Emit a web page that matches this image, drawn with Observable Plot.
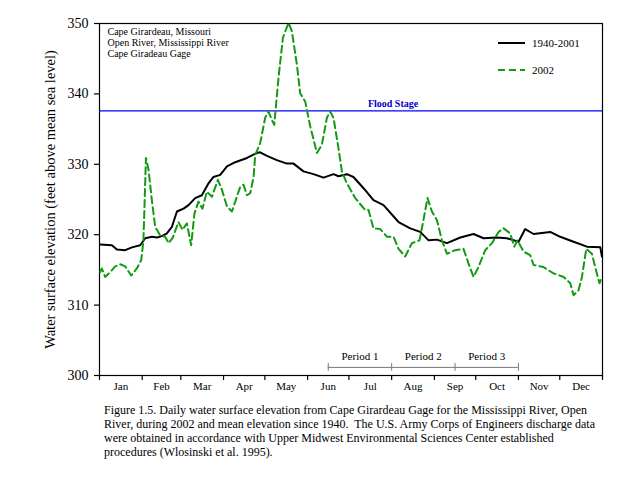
<!DOCTYPE html>
<html>
<head>
<meta charset="utf-8">
<script src="https://cdn.jsdelivr.net/npm/d3@7"></script>
<script src="https://cdn.jsdelivr.net/npm/@observablehq/plot@0.6"></script>
<style>
  html, body { margin: 0; padding: 0; background: #fff; }
  #wrap { position: relative; width: 640px; height: 495px; font-family: 'Liberation Serif', 'DejaVu Serif', serif; }
  #legend { position: absolute; left: 498px; top: 35px; font-size: 11px; color: #000; font-family: 'Liberation Serif', 'DejaVu Serif', serif; }
  #legend .row { display: flex; align-items: center; height: 16px; margin-bottom: 11px; }
  #legend svg { margin-right: 7px; }
  #caption { margin: 5px 0 0 104px; font-size: 12px; line-height: 14px; white-space: nowrap; color: #000; font-family: 'Liberation Serif', 'DejaVu Serif', serif; }
</style>
</head>
<body>
<div id="wrap">
  <div id="chart"></div>
  <div id="legend"></div>
  <div id="caption"></div>
</div>
<script>
// ---- data (day of year, 0 = Jan 1) ----
const avgDay  = [0.5, 9, 12.6, 18.7, 23.5, 29.5, 33.2, 38, 41.7, 45.3, 48.9, 52.5, 56.2, 61, 64.6, 69.4, 74.3, 79.1, 82.7, 87.6, 92.5, 98.5, 107, 114.2, 116.6, 121.5, 128.7, 136, 140.8, 148, 155.3, 162.6, 169.8, 173.4, 179.5, 184.3, 191.6, 198.8, 206.1, 217, 225.5, 232.7, 238.8, 244.8, 252.1, 261.8, 271.4, 278.7, 288.4, 295.6, 304.1, 308.9, 315, 327.1, 334.3, 344, 353.7, 363.4, 364.6];
const avgElev = [318.6, 318.5, 317.9, 317.8, 318.2, 318.5, 319.5, 319.7, 319.6, 319.8, 320.2, 321.1, 323.3, 323.7, 324.2, 325.2, 325.6, 327.3, 328.2, 328.5, 329.7, 330.3, 330.9, 331.6, 331.7, 331.2, 330.6, 330.1, 330.1, 329.0, 328.6, 328.1, 328.6, 328.3, 328.6, 328.2, 326.6, 324.9, 324.2, 321.8, 320.9, 320.4, 319.2, 319.3, 318.8, 319.6, 320.1, 319.5, 319.6, 319.5, 319.0, 320.8, 320.1, 320.4, 319.7, 319.0, 318.3, 318.2, 316.9];

const y2002Day  = [0.5, 1.7, 4.1, 7.8, 11.4, 15, 18.7, 23, 27.1, 30.3, 31.9, 33.7, 35.6, 38, 40.4, 44, 47.7, 50.1, 53, 57.3, 60.2, 63.4, 66.5, 68.9, 71.8, 74.7, 77.9, 81.6, 85.9, 88.8, 92.5, 96.1, 102.1, 104.5, 107, 109.4, 111.8, 113, 116.6, 120.2, 122.6, 125.1, 126.8, 129.9, 133.1, 137.2, 139.6, 143.2, 145.6, 149.3, 152.9, 157.8, 161.4, 165, 167.4, 169.8, 173.4, 175.9, 179.5, 185.6, 192.8, 195.2, 198.8, 203.7, 208.6, 213.4, 217, 221.8, 226.7, 232.2, 235.1, 238, 241.2, 244.8, 248.5, 252.1, 258.1, 264.1, 267.8, 271.4, 275, 279.9, 284.8, 289.6, 293.2, 298, 301, 303.3, 307.7, 312.5, 315, 322.2, 329.5, 336.8, 341.6, 344, 347.6, 350.1, 353.2, 357.3, 359.7, 362.8, 364.6];
const y2002Elev = [314.7, 315.2, 314.0, 314.7, 315.5, 315.8, 315.5, 314.2, 315.2, 316.4, 319.2, 330.9, 329.2, 324.9, 321.1, 319.9, 319.7, 318.8, 319.5, 321.8, 320.7, 321.6, 318.5, 323.0, 324.7, 323.7, 326.1, 325.4, 327.8, 326.4, 324.0, 323.3, 326.8, 327.1, 325.6, 325.9, 328.2, 331.3, 333.0, 336.6, 337.5, 336.3, 335.6, 342.3, 348.0, 350.1, 348.9, 344.2, 340.1, 338.9, 335.4, 331.6, 332.8, 336.6, 337.5, 336.6, 332.3, 329.0, 327.3, 325.2, 323.5, 323.5, 320.9, 320.8, 319.7, 319.7, 318.0, 316.9, 318.8, 319.2, 322.1, 325.2, 323.3, 322.1, 319.2, 317.3, 317.8, 318.0, 315.9, 314.0, 315.4, 317.8, 318.8, 320.4, 320.9, 320.2, 318.3, 319.2, 317.6, 317.1, 315.7, 315.4, 314.5, 314.0, 313.1, 311.4, 312.1, 314.0, 318.0, 317.3, 315.4, 313.1, 314.0];

const monthNames  = ["Jan","Feb","Mar","Apr","May","Jun","Jul","Aug","Sep","Oct","Nov","Dec"];
const monthStarts = [0, 31, 59, 90, 120, 151, 181, 212, 243, 273, 304, 334, 365];
const yTicks = [300, 310, 320, 330, 340, 350];

const floodStage = 337.6;
const floodLabelDay = 213;

const periodNames  = ["Period 1", "Period 2", "Period 3"];
const periodStarts = [166, 212, 258];
const periodEnds   = [212, 258, 304];
const periodLevel  = 301.15;

const siteLines = ["Cape Girardeau, Missouri", "Open River, Mississippi River", "Cape Giradeau Gage"];
const seriesNames = ["1940-2001", "2002"];
const yLabel = "Water surface elevation (feet above mean sea level)";
const captionLines = [
  "Figure 1.5. Daily water surface elevation from Cape Girardeau Gage for the Mississippi River, Open",
  "River, during 2002 and mean elevation since 1940.\u00a0 The U.S. Army Corps of Engineers discharge data",
  "were obtained in accordance with Upper Midwest Environmental Sciences Center established",
  "procedures (Wlosinski et al. 1995)."
];

const black = "#000000";
const green = "#129a12";
const serifFont = "'Liberation Serif', 'DejaVu Serif', serif";

// ---- tables ----
const avg = avgDay.map((d, i) => ({day: d, elev: avgElev[i]}));
const y2002 = y2002Day.map((d, i) => ({day: d, elev: y2002Elev[i]}));
const monthMid = monthNames.map((m, i) => (monthStarts[i] + monthStarts[i + 1]) / 2);
const periods = periodNames.map((n, i) => ({name: n, start: periodStarts[i], end: periodEnds[i], mid: (periodStarts[i] + periodEnds[i]) / 2}));
const periodBounds = Array.from(new Set(periodStarts.concat(periodEnds)));

const chart = Plot.plot({
  width: 640,
  height: 398,
  marginLeft: 99,
  marginRight: 38,
  marginTop: 23,
  marginBottom: 23,
  style: {fontFamily: serifFont, background: "#fff", color: "#000", overflow: "visible"},
  x: {domain: [0, 365]},
  y: {domain: [300, 350]},
  marks: [
    Plot.frame({stroke: "#000", strokeWidth: 1.2}),
    Plot.axisY({ticks: yTicks, tickSize: 5, tickPadding: 6, fontSize: 14, label: null, strokeWidth: 1.2}),
    Plot.text([yLabel], {frameAnchor: "left", text: d => d, rotate: -90, textAnchor: "middle", dx: -49, fontSize: 14.5}),
    Plot.axisX({ticks: monthStarts, tickSize: 5, tickFormat: () => "", label: null, strokeWidth: 1.2}),
    Plot.axisX({ticks: monthMid, tickSize: 0, tickPadding: 7, fontSize: 11, tickFormat: (d, i) => monthNames[i], label: null}),
    Plot.ruleY([floodStage], {stroke: "#0000ff", strokeWidth: 1.2}),
    Plot.text([floodStage], {x: floodLabelDay, y: d => d, text: () => "Flood Stage", dy: -7, fill: "#0000cc", fontWeight: "bold", fontSize: 10}),
    Plot.ruleY(periods, {x1: "start", x2: "end", y: () => periodLevel, stroke: "#777", strokeWidth: 1}),
    Plot.ruleX(periodBounds, {x: d => d, y1: periodLevel - 0.55, y2: periodLevel + 0.55, stroke: "#777", strokeWidth: 1}),
    Plot.text(periods, {x: "mid", y: () => periodLevel, text: "name", dy: -11, fontSize: 11}),
    Plot.text([siteLines.join("\n")], {frameAnchor: "top-left", text: d => d, dx: 8, dy: 4, fontSize: 10, lineHeight: 1.1}),
    Plot.line(avg, {x: "day", y: "elev", stroke: black, strokeWidth: 2}),
    Plot.line(y2002, {x: "day", y: "elev", stroke: green, strokeWidth: 2, strokeDasharray: "7,4"})
  ]
});
document.getElementById("chart").appendChild(chart);

// legend
const legend = document.getElementById("legend");
[[black, null], [green, "7,4"]].forEach(([c, dash], i) => {
  const row = document.createElement("div");
  row.className = "row";
  row.innerHTML = `<svg width="27" height="4"><line x1="0" y1="2" x2="27" y2="2" stroke="${c}" stroke-width="2" ${dash ? `stroke-dasharray="${dash}"` : ""}/></svg><span style="font-family:${serifFont}">${seriesNames[i]}</span>`;
  legend.appendChild(row);
});

const cap = document.getElementById("caption");
cap.style.fontFamily = serifFont;
cap.innerHTML = captionLines.join("<br>");
</script>
</body>
</html>
